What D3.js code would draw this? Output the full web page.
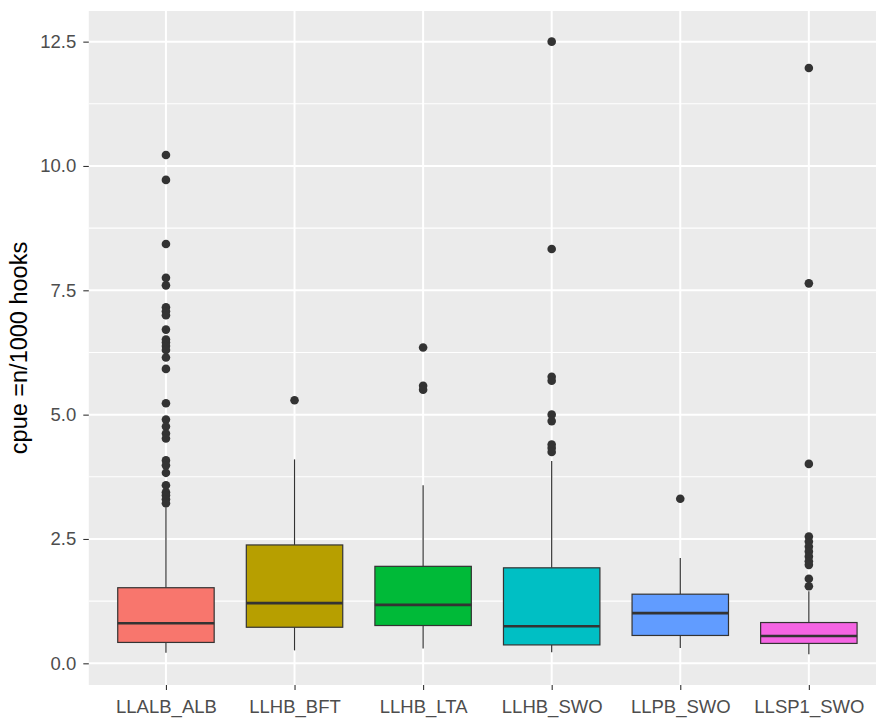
<!DOCTYPE html>
<html>
<head>
<meta charset="utf-8">
<style>
    body { margin: 0; background: #fff; }
    svg { display: block; font-family: 'Liberation Sans', Arial, sans-serif; }
    .axis .domain { display: none; }
    .axis .tick text { fill: #4d4d4d; font-size: 18.5px; }
    .axis .tick line { stroke: #333; stroke-width: 1.1; }
    .grid-major { stroke: #fff; stroke-width: 2; }
    .grid-minor { stroke: #fff; stroke-width: 1.1; }
    .title { font-size: 23.5px; fill: #000; }
</style>
</head>
<body>
<svg width="876" height="722"></svg>

<script src="https://d3js.org/d3.v7.min.js"></script>
<script>
    // values
    const categories = ["LLALB_ALB", "LLHB_BFT", "LLHB_LTA", "LLHB_SWO", "LLPB_SWO", "LLSP1_SWO"];
    const fills = ["#F8766D", "#B79F00", "#00BA38", "#00BFC4", "#619CFF", "#F564E3"];

    const lowerWhisker = [0.21, 0.26, 0.30, 0.22, 0.31, 0.18];
    const q1 = [0.42, 0.725, 0.76, 0.37, 0.56, 0.40];
    const median = [0.805, 1.21, 1.175, 0.745, 1.01, 0.55];
    const q3 = [1.52, 2.38, 1.95, 1.92, 1.39, 0.82];
    const upperWhisker = [3.14, 4.10, 3.58, 4.07, 2.12, 1.45];

    const outliers = [
        [10.22, 9.72, 8.43, 7.75, 7.60, 7.16, 7.08, 7.00, 6.71, 6.51, 6.45, 6.38, 6.30, 6.15, 5.92,
         5.23, 4.90, 4.76, 4.62, 4.52, 4.08, 3.98, 3.83, 3.58, 3.44, 3.38, 3.30, 3.22],
        [5.29],
        [6.35, 5.58, 5.50],
        [12.5, 8.33, 5.76, 5.68, 5.00, 4.87, 4.40, 4.33, 4.25],
        [3.31],
        [11.97, 7.64, 4.01, 2.55, 2.45, 2.35, 2.25, 2.15, 2.05, 1.98, 1.70, 1.55]
    ];

    const yTicks = [0, 2.5, 5, 7.5, 10, 12.5];
    const yMinor = [1.25, 3.75, 6.25, 8.75, 11.25];

    let svg = d3.select("svg");
    let panel = { left: 88.8, top: 11, right: 886, bottom: 685 };

    let x = d3.scalePoint()
        .domain(categories)
        .range([panel.left, panel.right])
        .padding(0.6);

    // ggplot-style 5% expansion of the data range
    let allValues = lowerWhisker.concat(upperWhisker, outliers.flat());
    let [lo, hi] = d3.extent(allValues);
    let pad = (hi - lo) * 0.05;
    let y = d3.scaleLinear()
        .domain([lo - pad, hi + pad])
        .range([panel.bottom, panel.top]);

    let boxW = x.step() * 0.75;

    // panel background
    svg.append("rect")
        .attr("x", panel.left)
        .attr("y", panel.top)
        .attr("width", panel.right - panel.left)
        .attr("height", panel.bottom - panel.top)
        .attr("fill", "#ebebeb");

    let grid = svg.append("g");
    grid.selectAll(".grid-minor")
        .data(yMinor)
        .join("line")
        .attr("class", "grid-minor")
        .attr("x1", panel.left).attr("x2", panel.right)
        .attr("y1", d => y(d)).attr("y2", d => y(d));

    grid.selectAll(".h-major")
        .data(yTicks)
        .join("line")
        .attr("class", "grid-major h-major")
        .attr("x1", panel.left).attr("x2", panel.right)
        .attr("y1", d => y(d)).attr("y2", d => y(d));

    grid.selectAll(".v-major")
        .data(categories)
        .join("line")
        .attr("class", "grid-major v-major")
        .attr("x1", d => x(d)).attr("x2", d => x(d))
        .attr("y1", panel.top).attr("y2", panel.bottom);

    // boxes
    let boxes = svg.append("g")
        .selectAll("g")
        .data(categories)
        .join("g");

    boxes.append("line")
        .attr("x1", d => x(d)).attr("x2", d => x(d))
        .attr("y1", (d, i) => y(q3[i])).attr("y2", (d, i) => y(upperWhisker[i]))
        .attr("stroke", "#333").attr("stroke-width", 1.2);

    boxes.append("line")
        .attr("x1", d => x(d)).attr("x2", d => x(d))
        .attr("y1", (d, i) => y(q1[i])).attr("y2", (d, i) => y(lowerWhisker[i]))
        .attr("stroke", "#333").attr("stroke-width", 1.2);

    boxes.append("rect")
        .attr("x", d => x(d) - boxW / 2)
        .attr("width", boxW)
        .attr("y", (d, i) => y(q3[i]))
        .attr("height", (d, i) => y(q1[i]) - y(q3[i]))
        .attr("fill", (d, i) => fills[i])
        .attr("stroke", "#333")
        .attr("stroke-width", 1.2);

    boxes.append("line")
        .attr("x1", d => x(d) - boxW / 2).attr("x2", d => x(d) + boxW / 2)
        .attr("y1", (d, i) => y(median[i])).attr("y2", (d, i) => y(median[i]))
        .attr("stroke", "#333").attr("stroke-width", 2.6);

    boxes.selectAll("circle")
        .data((d, i) => outliers[i].map(v => ({ cat: d, v: v })))
        .join("circle")
        .attr("cx", d => x(d.cat))
        .attr("cy", d => y(d.v))
        .attr("r", 4.3)
        .attr("fill", "#333");

    // axes
    svg.append("g")
        .attr("class", "axis")
        .attr("transform", `translate(${panel.left},0)`)
        .call(d3.axisLeft(y).tickValues(yTicks).tickFormat(d3.format(".1f")).tickSize(5.5).tickPadding(7));

    svg.append("g")
        .attr("class", "axis")
        .attr("transform", `translate(0,${panel.bottom})`)
        .call(d3.axisBottom(x).tickSize(5).tickPadding(10));

    svg.append("text")
        .attr("class", "title")
        .attr("transform", `translate(27,${(panel.top + panel.bottom) / 2}) rotate(-90)`)
        .attr("text-anchor", "middle")
        .text("cpue =n/1000 hooks");
</script>
</body>
</html>
